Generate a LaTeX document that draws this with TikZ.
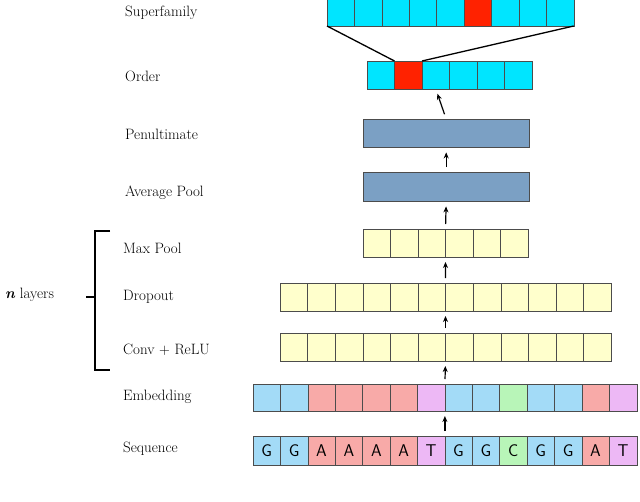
\documentclass[tikz,border=0pt]{standalone}
\usetikzlibrary{arrows.meta,decorations.pathreplacing}
\definecolor{cyanc}{HTML}{00E5FF}
\definecolor{redc}{HTML}{FF2200}
\definecolor{barc}{HTML}{7BA0C4}
\definecolor{yelc}{HTML}{FFFFCC}
\definecolor{nucG}{HTML}{A3DBF7}
\definecolor{nucA}{HTML}{F8AAA8}
\definecolor{nucT}{HTML}{EDB8F5}
\definecolor{nucC}{HTML}{B8F5B8}
\tikzset{
  cell/.style={draw=black!70, fill=#1, minimum width=27.5pt, minimum height=28pt,
    inner sep=0pt, outer sep=0pt, anchor=north west},
  lbl/.style={anchor=west, inner sep=0pt, font=\fontsize{15}{18}\selectfont},
  up/.style={-{Stealth[length=6pt,width=5pt]}, line width=1.2pt, shorten <=5pt, shorten >=5pt}
}
\begin{document}
\begin{tikzpicture}[x=1pt,y=-1pt]
\useasboundingbox (0,0) rectangle (640,501);

    % superfamily and order
    \foreach \i in {1,...,9} {
      \ifnum\i=6 \def\c{redc}\else\def\c{cyanc}\fi
      \node[cell=\c] (sf\i) at ({327+(\i-1)*27.4},-2) {};
    }
    \foreach \i in {1,...,6} {
      \ifnum\i=2 \def\c{redc}\else\def\c{cyanc}\fi
      \node[cell=\c] (ord\i) at ({367+(\i-1)*27.5},61) {};
    }
    \draw[line width=1.3pt] (sf1.south west) -- (ord2.north west);
    \draw[line width=1.3pt] (sf9.south east) -- (ord2.north east);

    % dense layers
    \node[draw=black!70, fill=barc, minimum width=166pt, minimum height=28pt, inner sep=0pt, anchor=north west] (pen) at (363,119) {};
    \node[draw=black!70, fill=barc, minimum width=166pt, minimum height=29pt, inner sep=0pt, anchor=north west] (avg) at (363,172) {};

    % conv block
    \foreach \i in {1,...,6}
      \node[cell=yelc] (max\i) at ({363+(\i-1)*27.5},229) {};
    \foreach \i in {1,...,12} {
      \node[cell=yelc] (drop\i) at ({280+(\i-1)*27.6},283) {};
      \node[cell=yelc] (conv\i) at ({280+(\i-1)*27.6},333) {};
    }

    % embedding and sequence
    \foreach \b [count=\i] in {G,G,A,A,A,A,T,G,G,C,G,G,A,T} {
      \node[cell=nuc\b, minimum height=27pt] (emb\i) at ({253+(\i-1)*27.4},384) {};
      \node[cell=nuc\b, minimum height=29pt, font=\sffamily\fontsize{17}{20}\selectfont] (seq\i) at ({253+(\i-1)*27.4},436) {\b};
    }

    % arrows
    \draw[up] (seq7.north east) -- (emb7.south east);
    \draw[up] (emb7.north east) -- (conv6.south east);
    \draw[up] (conv6.north east) -- (drop6.south east);
    \draw[up] (drop6.north east) -- (max3.south east);
    \draw[up] (max3.north east) -- (avg.south);
    \draw[up] (avg.north) -- (pen.south);
    \draw[up] (pen.north) -- (ord3.south);

    % labels
    \node[lbl] (lsf) at (125,13) {Superfamily};
    \node[lbl] (lord) at (125,76) {Order};
    \node[lbl] (lpen) at (125,134) {Penultimate};
    \node[lbl] (lavg) at (125,193) {Average Pool};
    \node[lbl] (lmax) at (123,248) {Max Pool};
    \node[lbl] (ldrop) at (123,297) {Dropout};
    \node[lbl] (lconv) at (123,350) {Conv + ReLU};
    \node[lbl] (lemb) at (123,397) {Embedding};
    \node[lbl] (lseq) at (123,449) {Sequence};

    % brace
    \draw[line width=1.3pt] (110,231) -- (95,231) -- (95,370) -- (110,370);
    \draw[line width=1.3pt] (95,297) -- (86,297);
    \node[lbl] (nl) at (5,295) {\textbf{\textit{n}} layers};

\end{tikzpicture}
\end{document}
